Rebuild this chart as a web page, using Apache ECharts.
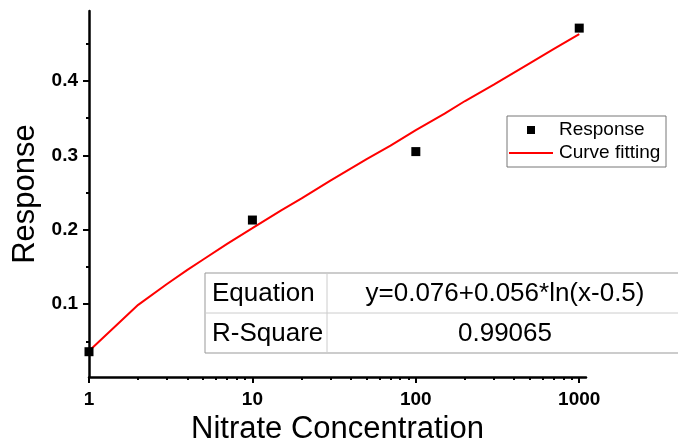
<!DOCTYPE html>
<html>
<head>
<meta charset="utf-8">
<script src="https://cdn.jsdelivr.net/npm/echarts@6/dist/echarts.min.js"></script>
<style>
  html, body { margin: 0; padding: 0; background: #fff; }
  #chart { width: 678px; height: 442px; }
</style>
</head>
<body>
<div id="chart"></div>
<script>
// measured points
const concentration = [1, 10, 100, 1000];
const response = [0.036, 0.213, 0.305, 0.471];

// fitted curve
const fitX = [1, 2, 3, 4, 5, 7, 10, 15, 20, 30, 50, 70, 100, 150, 200, 300, 500, 700, 1000];
const fitY = [0.037, 0.099, 0.127, 0.146, 0.160, 0.181, 0.202, 0.226, 0.242, 0.266, 0.295, 0.313, 0.334, 0.356, 0.373, 0.395, 0.424, 0.443, 0.463];

const xMajor = [1, 10, 100, 1000];
const xMinor = [2, 3, 4, 5, 6, 7, 8, 9, 20, 30, 40, 50, 60, 70, 80, 90, 200, 300, 400, 500, 600, 700, 800, 900];
const yMajor = [0.1, 0.2, 0.3, 0.4];
const yMinor = [0.05, 0.15, 0.25, 0.35, 0.45];

const tableRows = [
  ['Equation', 'y=0.076+0.056*ln(x-0.5)'],
  ['R-Square', '0.99065']
];

const FONT = "'Liberation Sans', Arial, sans-serif";
const X_MIN = 1, X_MAX = 1100, Y_MIN = 0.002, Y_MAX = 0.494;

const chart = echarts.init(document.getElementById('chart'));

const tableLeft = 205, tableTop = 273, rowH = 40, col1W = 122, tableW = 480;
const tableGraphics = [];
tableGraphics.push({
  type: 'rect',
  shape: { x: tableLeft, y: tableTop, width: tableW, height: rowH * tableRows.length },
  style: { fill: '#fff', stroke: '#999', lineWidth: 1 }
});
tableGraphics.push({
  type: 'line',
  shape: { x1: tableLeft, y1: tableTop + rowH, x2: tableLeft + tableW, y2: tableTop + rowH },
  style: { stroke: '#ccc', lineWidth: 1 }
});
tableGraphics.push({
  type: 'line',
  shape: { x1: tableLeft + col1W, y1: tableTop, x2: tableLeft + col1W, y2: tableTop + rowH * tableRows.length },
  style: { stroke: '#ccc', lineWidth: 1 }
});
tableRows.forEach((row, i) => {
  const cy = tableTop + rowH * i + rowH / 2 + 1;
  tableGraphics.push({
    type: 'text', x: tableLeft + 7, y: cy,
    style: { text: row[0], font: '26px ' + FONT, fill: '#000', verticalAlign: 'middle', align: 'left' }
  });
  tableGraphics.push({
    type: 'text', x: 505, y: cy,
    style: { text: row[1], font: '26px ' + FONT, fill: '#000', verticalAlign: 'middle', align: 'center' }
  });
});

const legendGraphics = [
  { type: 'rect', shape: { x: 507, y: 116, width: 159, height: 51 }, style: { fill: '#fff', stroke: '#777', lineWidth: 1 } },
  { type: 'rect', shape: { x: 527, y: 126, width: 8, height: 8 }, style: { fill: '#000' } },
  { type: 'text', x: 559, y: 130, style: { text: 'Response', font: '19px ' + FONT, fill: '#000', verticalAlign: 'middle' } },
  { type: 'line', shape: { x1: 509, y1: 153, x2: 553, y2: 153 }, style: { stroke: '#ff0000', lineWidth: 2 } },
  { type: 'text', x: 559, y: 153, style: { text: 'Curve fitting', font: '19px ' + FONT, fill: '#000', verticalAlign: 'middle' } }
];

const option = {
  backgroundColor: '#fff',
  animation: false,
  textStyle: { fontFamily: FONT },
  grid: { left: 89, right: 92, top: 11, bottom: 65, containLabel: false, outerBoundsMode: 'none' },
  xAxis: [
    {
      type: 'log', logBase: 10, min: X_MIN, max: X_MAX,
      name: 'Nitrate Concentration', nameLocation: 'middle', nameGap: 34,
      nameTextStyle: { fontSize: 31, color: '#000', fontFamily: FONT },
      axisLine: { lineStyle: { color: '#000', width: 2.5 } },
      axisTick: { length: 6, lineStyle: { color: '#000', width: 2 }, customValues: xMajor },
      axisLabel: {
        customValues: xMajor, fontSize: 19, fontWeight: 'bold', color: '#000', margin: 13, fontFamily: FONT,
        formatter: v => String(Math.round(v))
      },
      splitLine: { show: false }
    },
    {
      type: 'log', logBase: 10, min: X_MIN, max: X_MAX, position: 'bottom',
      axisLine: { show: false },
      axisTick: { length: 3, lineStyle: { color: '#000', width: 2 }, customValues: xMinor },
      axisLabel: { show: false },
      splitLine: { show: false }
    }
  ],
  yAxis: [
    {
      type: 'value', min: Y_MIN, max: Y_MAX,
      name: 'Response', nameLocation: 'middle', nameGap: 44,
      nameTextStyle: { fontSize: 31, color: '#000', fontFamily: FONT },
      axisLine: { show: true, lineStyle: { color: '#000', width: 2.5 } },
      axisTick: { show: true, length: 6, lineStyle: { color: '#000', width: 2 }, customValues: yMajor },
      axisLabel: {
        customValues: yMajor, fontSize: 19, fontWeight: 'bold', color: '#000', margin: 11, fontFamily: FONT,
        formatter: v => v.toFixed(1)
      },
      splitLine: { show: false }
    },
    {
      type: 'value', min: Y_MIN, max: Y_MAX, position: 'left',
      axisLine: { show: false },
      axisTick: { show: true, length: 3, lineStyle: { color: '#000', width: 2 }, customValues: yMinor },
      axisLabel: { show: false },
      splitLine: { show: false }
    }
  ],
  series: [
    {
      name: 'Curve fitting',
      type: 'line',
      xAxisIndex: 0, yAxisIndex: 0,
      data: fitX.map((x, i) => [x, fitY[i]]),
      showSymbol: false,
      lineStyle: { color: '#ff0000', width: 2 },
      z: 2
    },
    {
      name: 'Response',
      type: 'scatter',
      xAxisIndex: 0, yAxisIndex: 0,
      data: concentration.map((x, i) => [x, response[i]]),
      symbol: 'rect',
      symbolSize: 9,
      itemStyle: { color: '#000', opacity: 1 },
      z: 3
    }
  ],
  graphic: [
    { type: 'group', children: legendGraphics },
    { type: 'group', children: tableGraphics }
  ]
};

chart.setOption(option);
</script>
</body>
</html>
